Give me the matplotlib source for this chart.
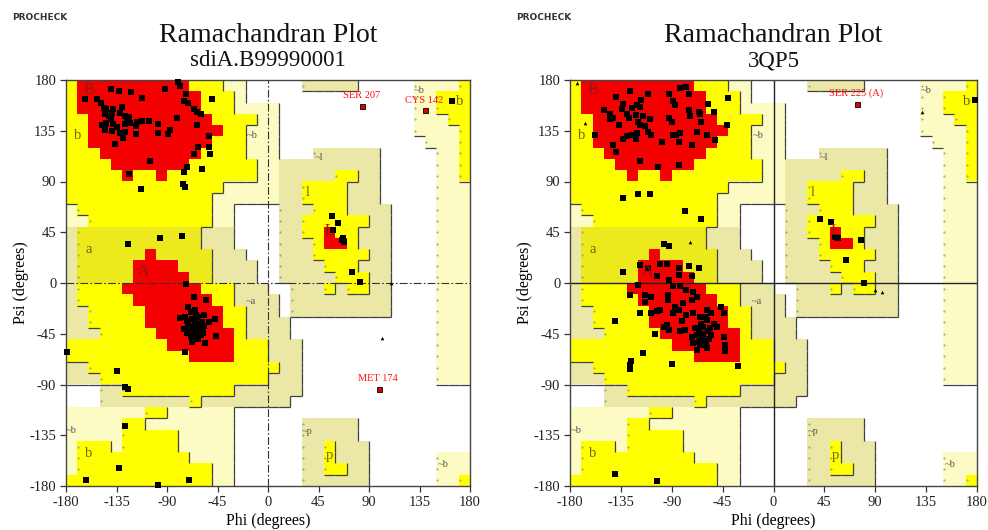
import numpy as np
import matplotlib
matplotlib.use("Agg")
import matplotlib.pyplot as plt
from matplotlib.collections import LineCollection

# PROCHECK region map, 10 degree cells.
# rows run psi 180 -> -180, columns phi -180 -> 180 (run-length coded)
# . disallowed   g / t generous   y / d allowed   R most favoured
region_rle = [
    "y1 R10 y3 g2 .5 t5 .5 g4 y1",
    "y1 R11 y3 g1 .15 g2 y3",
    "y1 R11 y3 g4 .12 g2 y3",
    "y2 R11 y4 g2 .12 g3 y2",
    "y2 R12 y2 g3 .12 g4 y1",
    "y2 R11 y3 g3 .13 g3 y1",
    "y3 R9 y4 g3 .3 t6 .5 g2 y1",
    "y4 R7 y6 g2 t9 .5 g2 y1",
    "y5 R1 y2 R1 y8 g2 t5 y2 t2 .5 g2 y1",
    "y14 g5 t2 y4 t3 .5 g3",
    "y13 g6 t2 y4 t3 .5 g3",
    "g1 y12 g2 .4 t3 y3 t4 .4 g3",
    "g2 y11 g2 .4 t2 y6 t2 .4 g3",
    "t1 d11 t3 .4 t2 y2 R1 y2 t3 .4 g3",
    "t1 d11 t3 .4 t3 y1 R2 y1 t3 .4 g3",
    "t1 d6 R1 d5 t3 .3 t3 y5 t2 .4 g3",
    "t1 d5 R4 d3 t4 .2 t4 y3 t3 .4 g3",
    "t1 d5 R5 d2 t4 .2 t5 y3 t2 .4 g3",
    "t1 y4 R7 y3 t3 .2 t3 y1 t1 y2 t2 .4 g3",
    "t1 y5 R7 y2 t4 .1 t9 .4 g3",
    "t2 y5 R7 y2 t3 .1 t9 .4 g3",
    "t2 y5 R7 y2 t4 .13 g3",
    "t3 y5 R7 y1 t4 .13 g3",
    "y9 R6 y3 t3 .12 g3",
    "y11 R4 y3 t3 .12 g3",
    "t2 y17 t2 .12 g3",
    "t3 y15 t3 .12 g3",
    ".3 t2 y10 t6 .15",
    ".3 t8 y1 t8 .16",
    "g7 y2 g6 .21",
    "g5 y2 g8 .6 t5 .10",
    "g5 y5 g5 .6 t5 .10",
    "g1 y3 g1 y5 g5 .6 t2 y1 t3 .9",
    "g1 y10 g4 .6 t2 y1 t3 .6 g3",
    "g1 y12 g2 .6 t2 y2 t2 .6 g3",
    "y13 g2 .6 t6 .6 g2 y1",
]

region_colors = {".": "#ffffff", "g": "#fdfbc4", "t": "#ebe7a6",
                 "y": "#ffff00", "d": "#ecea1c", "R": "#f40000"}
region_level = {".": 0, "g": 1, "t": 1, "y": 2, "d": 2, "R": 3}

region_labels = [
    ("B", -160, 171), ("b", -170, 131), ("~b", -14, 131), ("a", -160, 30),
    ("A", -111, 10), ("~a", -15, -16), ("~l", 45, 111), ("l", 35, 80),
    ("L", 55, 46), ("~b", 135, 171), ("b", 171, 161), ("~b", -175, -131),
    ("b", -160, -151), ("~p", 35, -132), ("p", 55, -153), ("~b", 156, -161),
]

# sdiA.B99990001 residues (phi, psi)
sdia_pts = [
    (-163, 163), (-140, 172), (-133, 170), (-122, 169), (-112, 164), (-92, 172),
    (-80, 178), (-78, 175), (-73, 168), (-75, 161), (-71, 160), (-66, 154),
    (-63, 152), (-60, 150), (-50, 163), (-152, 163), (-149, 160), (-146, 155),
    (-144, 154), (-145, 150), (-142, 148), (-140, 145), (-144, 142), (-145, 139),
    (-139, 151), (-138, 154), (-132, 151), (-130, 156), (-127, 148), (-126, 145),
    (-127, 141), (-123, 142), (-118, 139), (-117, 143), (-112, 144), (-106, 144),
    (-98, 141), (-98, 133), (-89, 132), (-81, 146), (-87, 136), (-63, 140),
    (-53, 130), (-53, 121), (-118, 132), (-127, 134), (-129, 129), (-136, 123),
    (-62, 121), (-66, 114), (-52, 114), (-59, 101), (-72, 103), (-75, 98),
    (-76, 88), (-74, 85), (-105, 108), (-124, 97), (-113, 83), (-138, 141),
    (-135, 138), (-148, 140), (-145, 136), (-124, 147), (-139, 135), (-132, 133),
    (-125, 35), (-96, 40), (-77, 42), (-73, -1),
    (-66, -12), (-55, -15), (-71, -21), (-65, -24), (-74, -30), (-78, -31),
    (-68, -32), (-62, -30), (-57, -28), (-47, -32), (-71, -37), (-66, -40),
    (-62, -38), (-59, -41), (-65, -44), (-69, -47), (-63, -49), (-56, -53),
    (-46, -47), (-75, -41), (-72, -44), (-60, -46), (-68, -52), (-53, -35),
    (-65, -34), (-59, -35), (-63, -40), (-67, -43), (-61, -42), (-70, -40),
    (-64, -36), (-58, -44), (-66, -46), (-62, -50), (-68, -38), (-60, -39),
    (-72, -34), (-64, -28), (-57, -38), (-69, -26),
    (-74, -61), (-179, -61), (-135, -78), (-127, -92), (-125, -94), (-127, -127),
    (-133, -164), (-162, -175), (-98, -179), (-70, -175),
    (57, 59), (62, 53), (58, 47), (67, 40), (68, 36), (66, 38), (75, 10),
    (82, 1), (164, 161),
]
sdia_gly = [(110, 0), (102, -49)]
sdia_out = [("SER 207", 84, 157), ("CYS 142", 140, 153), ("MET 174", 99, -94)]

# 3QP5 residues (phi, psi)
qp5_pts = [
    (-150, 153), (-145, 150), (-142, 146), (-139, 165), (-145, 145), (-137, 140),
    (-134, 154), (-133, 159), (-130, 150), (-128, 146), (-127, 170), (-125, 155),
    (-122, 149), (-121, 158), (-118, 156), (-117, 162), (-120, 143), (-118, 140),
    (-115, 148), (-114, 139), (-111, 168), (-111, 134), (-109, 145), (-108, 131),
    (-121, 133), (-122, 128), (-125, 131), (-130, 130), (-133, 128), (-158, 131),
    (-142, 122), (-139, 116), (-118, 108), (-102, 103), (-99, 125), (-92, 168),
    (-89, 161), (-87, 158), (-92, 146), (-90, 143), (-89, 131), (-86, 131),
    (-83, 133), (-84, 125), (-75, 168), (-75, 153), (-74, 148), (-72, 122),
    (-84, 105), (-77, 174), (-83, 173), (-66, 152), (-65, 150), (-64, 143),
    (-58, 159), (-53, 152), (-68, 134), (-59, 131), (-52, 127), (-41, 140),
    (-40, 164),
    (-133, 75), (-120, 79), (-109, 79), (-78, 64), (-64, 57), (-97, 35), (-92, 33),
    (-118, 16), (-100, 17), (-94, 17), (-75, 15), (-84, 13), (-111, 13), (-66, 13),
    (-133, 10), (-72, 6), (-84, 7), (-103, 6), (-92, 3), (-120, -2), (-127, -11),
    (-114, -11), (-108, -12), (-114, -17), (-93, -11), (-89, -3), (-83, -3),
    (-77, -6), (-71, -8), (-68, -12), (-72, -15), (-80, -18), (-87, -21),
    (-93, -15), (-103, -25), (-108, -27), (-118, -27), (-100, -24), (-84, -24),
    (-77, -28), (-81, -34), (-89, -27), (-94, -37), (-92, -42), (-97, -39),
    (-105, -45), (-71, -27), (-65, -30), (-59, -33), (-55, -27), (-46, -21),
    (-44, -27), (-50, -39), (-62, -39), (-66, -42), (-65, -48), (-61, -51),
    (-71, -53), (-65, -55), (-59, -58), (-68, -59), (-44, -48), (-43, -55),
    (-43, -60), (-31, -74), (-140, -34), (-115, -62), (-126, -69), (-127, -73),
    (-127, -76), (-90, -72), (-55, -46), (-58, -43), (-64, -36), (-69, -40),
    (-72, -48), (-78, -42), (-83, -43), (-59, -24), (-53, -36), (-62, -45),
    (-57, -50), (-66, -52), (-60, -55), (-63, -48), (-68, -46), (-56, -40),
    (-61, -30),
    (-140, -169), (-103, -176),
    (41, 57), (51, 54), (54, 41), (57, 40), (77, 38), (64, 20), (80, 0), (178, 162),
]
qp5_gly = [(-174, 177), (-167, 142), (-74, 36), (131, 152), (90, -6), (96, -8)]
qp5_out = [("SER 225 (A)", 74, 159)]

ticks = [-180, -135, -90, -45, 0, 45, 90, 135, 180]
SERIF = "Liberation Serif"


def decode(rle):
    rows = []
    for line in rle:
        s = ""
        for tok in line.split():
            s += tok[0] * int(tok[1:])
        assert len(s) == 36, line
        rows.append(s)
    return rows


grid = decode(region_rle)
rgb = np.array([[matplotlib.colors.to_rgb(region_colors[ch]) for ch in row]
                for row in grid])
lev = np.array([[region_level[ch] for ch in row] for row in grid])


def draw_regions(ax):
    ax.imshow(rgb, extent=(-180, 180, -180, 180), origin="upper",
              interpolation="nearest", aspect="auto", zorder=0)
    segs = []
    dots = []
    for r in range(36):
        for c in range(36):
            L = lev[r, c]
            x0, x1 = -180 + 10 * c, -170 + 10 * c
            y1, y0 = 180 - 10 * r, 170 - 10 * r
            if L in (1, 2):
                # drop shadow on right and lower edges
                if c < 35 and lev[r, c + 1] < L:
                    segs.append([(x1, y0), (x1, y1)])
                if r < 35 and lev[r + 1, c] < L:
                    segs.append([(x0, y0), (x1, y0)])
                if c > 0 and lev[r, c - 1] < L:
                    dots.append((x0 + 1.0, y0 + 5))
    ax.add_collection(LineCollection(segs, colors="#404040", linewidths=0.9,
                                     zorder=1))
    if dots:
        d = np.array(dots)
        ax.plot(d[:, 0], d[:, 1], ".", color="#9a9a80", ms=1.0, zorder=1)


def draw_panel(ax, pts, gly, out, dashed):
    draw_regions(ax)
    if dashed:
        ls = (0, (7, 2, 1.5, 2))
        ax.axhline(0, color="#333333", lw=0.8, ls=ls, zorder=2)
        ax.axvline(0, color="#333333", lw=0.8, ls=ls, zorder=2)
    else:
        ax.axhline(0, color="#222222", lw=1.0, zorder=2)
        ax.axvline(0, color="#222222", lw=1.0, zorder=2)

    for txt, x, y in region_labels:
        if txt.startswith("~"):
            ax.text(x, y, txt, fontsize=7.5, family=SERIF, color="#555555",
                    ha="center", va="center", zorder=2)
        elif txt.isupper():
            ax.text(x, y, txt, fontsize=11.5, family=SERIF, color="#8c1a12",
                    ha="center", va="center", zorder=4)
        else:
            ax.text(x, y, txt, fontsize=10.5, family=SERIF, color="#6e6212",
                    ha="center", va="center", zorder=2)

    p = np.array(pts)
    ax.plot(p[:, 0], p[:, 1], "s", color="black", ms=3.8, mew=0, zorder=3,
            clip_on=False)
    g = np.array(gly)
    ax.plot(g[:, 0], g[:, 1], "^", color="black", ms=2.6, mew=0, zorder=3)
    for name, x, y in out:
        ax.plot(x, y, "s", mfc="#e00000", mec="black", mew=0.6, ms=3.6, zorder=3)
        ax.text(x - 1, y + 5, name, fontsize=7.5, family=SERIF, color="#ff1010",
                ha="center", va="bottom", zorder=4)

    ax.set_xlim(-180, 180)
    ax.set_ylim(-180, 180)
    ax.set_xticks(ticks)
    ax.set_yticks(ticks)
    ax.set_xticklabels([str(t) for t in ticks], family=SERIF, fontsize=10.5,
                       color="#222222")
    ax.set_yticklabels([str(t) for t in ticks], family=SERIF, fontsize=10.5,
                       color="#222222")
    ax.tick_params(direction="out", length=4, width=0.9, color="#333333",
                   top=False, right=False, pad=3)
    for sp in ax.spines.values():
        sp.set_color("#444444")
        sp.set_linewidth(1.0)
    ax.set_xlabel("Phi (degrees)", family=SERIF, fontsize=11.5, labelpad=3)
    ax.set_ylabel("Psi (degrees)", family=SERIF, fontsize=11.5, labelpad=0)


W, H = 988, 530
fig = plt.figure(figsize=(W / 100, H / 100), dpi=100)

panels = [
    (66, 404, "sdiA.B99990001", sdia_pts, sdia_gly, sdia_out, True, 12),
    (570, 407, "3QP5", qp5_pts, qp5_gly, qp5_out, False, 516),
]
for left, width, sub, pts, gly, out, dashed, tag_x in panels:
    ax = fig.add_axes([left / W, (H - 486) / H, width / W, 406 / H])
    draw_panel(ax, pts, gly, out, dashed)
    cx = (left + width / 2) / W
    fig.text(tag_x / W, 1 - 17 / H, "PROCHECK", fontsize=6.5, weight="bold",
             family="DejaVu Sans", color="#333333", va="center")
    fig.text(cx, 1 - 35 / H, "Ramachandran Plot", fontsize=20, family=SERIF,
             ha="center", va="center", color="#111111")
    fig.text(cx, 1 - 61 / H, sub, fontsize=16.5, family=SERIF,
             ha="center", va="center", color="#111111")

fig.savefig("out.png", dpi=100)
